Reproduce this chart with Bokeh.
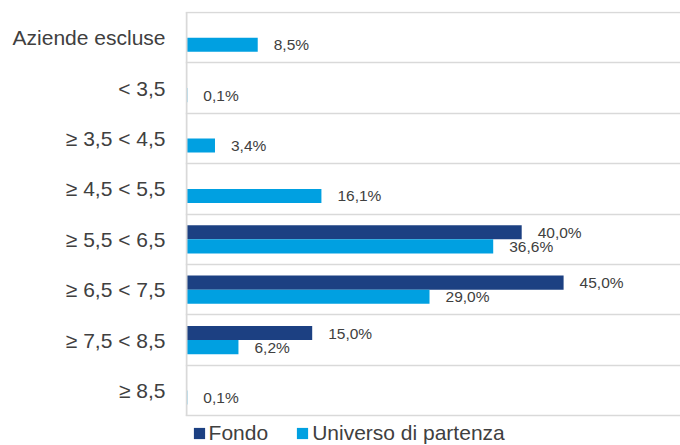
from bokeh.plotting import figure
from bokeh.models import ColumnDataSource, Range1d, FixedTicker, Legend, LegendItem
from bokeh.core.properties import value
from bokeh.embed import file_html
from bokeh.resources import INLINE

categories = ["Aziende escluse", "< 3,5", "≥ 3,5 < 4,5", "≥ 4,5 < 5,5",
              "≥ 5,5 < 6,5", "≥ 6,5 < 7,5", "≥ 7,5 < 8,5", "≥ 8,5"]
fondo = [None, None, None, None, 40.0, 45.0, 15.0, None]
universo = [8.5, 0.1, 3.4, 16.1, 36.6, 29.0, 6.2, 0.1]
series_names = ["Fondo", "Universo di partenza"]

FONDO_COLOR = "#1C4082"
UNIV_COLOR = "#00A0E1"
TEXT_COLOR = "#404040"
GRID_COLOR = "#D9D9D9"
FONT = "Liberation Sans"

n = len(categories)
centers = [n - i - 0.5 for i in range(n)]
bar_h = 0.28
BAND_PX = 50.4      # pixels per category band
X_PX = 8.38         # pixels per percentage point
FRAME_W, FRAME_H = 495, 434
pad = 1 / BAND_PX

def fmt(v):
    return f"{v:.1f}%".replace(".", ",")

f_idx = [i for i, v in enumerate(fondo) if v is not None]
src_f = ColumnDataSource(dict(
    y=[centers[i] + bar_h / 2 for i in f_idx],
    x=[fondo[i] for i in f_idx],
    lab=[fmt(fondo[i]) for i in f_idx],
))
src_u = ColumnDataSource(dict(
    y=[c - bar_h / 2 for c in centers],
    x=universo,
    lab=[fmt(v) for v in universo],
))

x_start = -1 / X_PX
y_end = n + pad
p = figure(frame_width=FRAME_W, frame_height=FRAME_H, output_backend="svg",
           toolbar_location=None,
           x_range=Range1d(x_start, x_start + FRAME_W / X_PX),
           y_range=Range1d(y_end - FRAME_H / BAND_PX, y_end),
           min_border_left=185, min_border_right=0, min_border_top=11,
           min_border_bottom=0)
p.outline_line_color = None
p.background_fill_color = "white"
p.border_fill_color = "white"

rf = p.hbar(y="y", right="x", left=0, height=bar_h, source=src_f,
            fill_color=FONDO_COLOR, line_color=None)
ru = p.hbar(y="y", right="x", left=0, height=bar_h, source=src_u,
            fill_color=UNIV_COLOR, line_color=None)

# vertical category axis line, spanning only the category bands
p.segment(x0=[0], y0=[0], x1=[0], y1=[n], line_color=GRID_COLOR, line_width=2)

for src in (src_f, src_u):
    p.text(x="x", y="y", text="lab", source=src, x_offset=16,
           text_align="left", text_baseline="middle",
           text_font=value(FONT), text_font_size="15.5px", text_color=TEXT_COLOR)

p.xaxis.visible = False
p.xgrid.visible = False
p.ygrid.ticker = FixedTicker(ticks=list(range(n + 1)))
p.ygrid.grid_line_color = GRID_COLOR
p.ygrid.grid_line_width = 1.5

yax = p.yaxis[0]
yax.ticker = FixedTicker(ticks=centers)
yax.major_label_overrides = {c: categories[i] for i, c in enumerate(centers)}
yax.major_tick_line_color = None
yax.minor_tick_line_color = None
yax.major_tick_out = 0
yax.major_tick_in = 0
yax.major_label_standoff = 20
yax.axis_line_color = None
yax.major_label_text_font = FONT
yax.major_label_text_font_size = "21px"
yax.major_label_text_color = TEXT_COLOR

legend = Legend(items=[LegendItem(label=series_names[0], renderers=[rf]),
                       LegendItem(label=series_names[1], renderers=[ru])],
                location=(6.6, 0), orientation="horizontal",
                padding=0, margin=0, spacing=27,
                glyph_width=14, glyph_height=14, label_height=14,
                label_standoff=3, label_text_font=FONT,
                label_text_font_size="21px", label_text_color=TEXT_COLOR,
                border_line_color=None, background_fill_alpha=0)
p.add_layout(legend, "center")

open("out.html", "w").write(file_html(p, INLINE))
